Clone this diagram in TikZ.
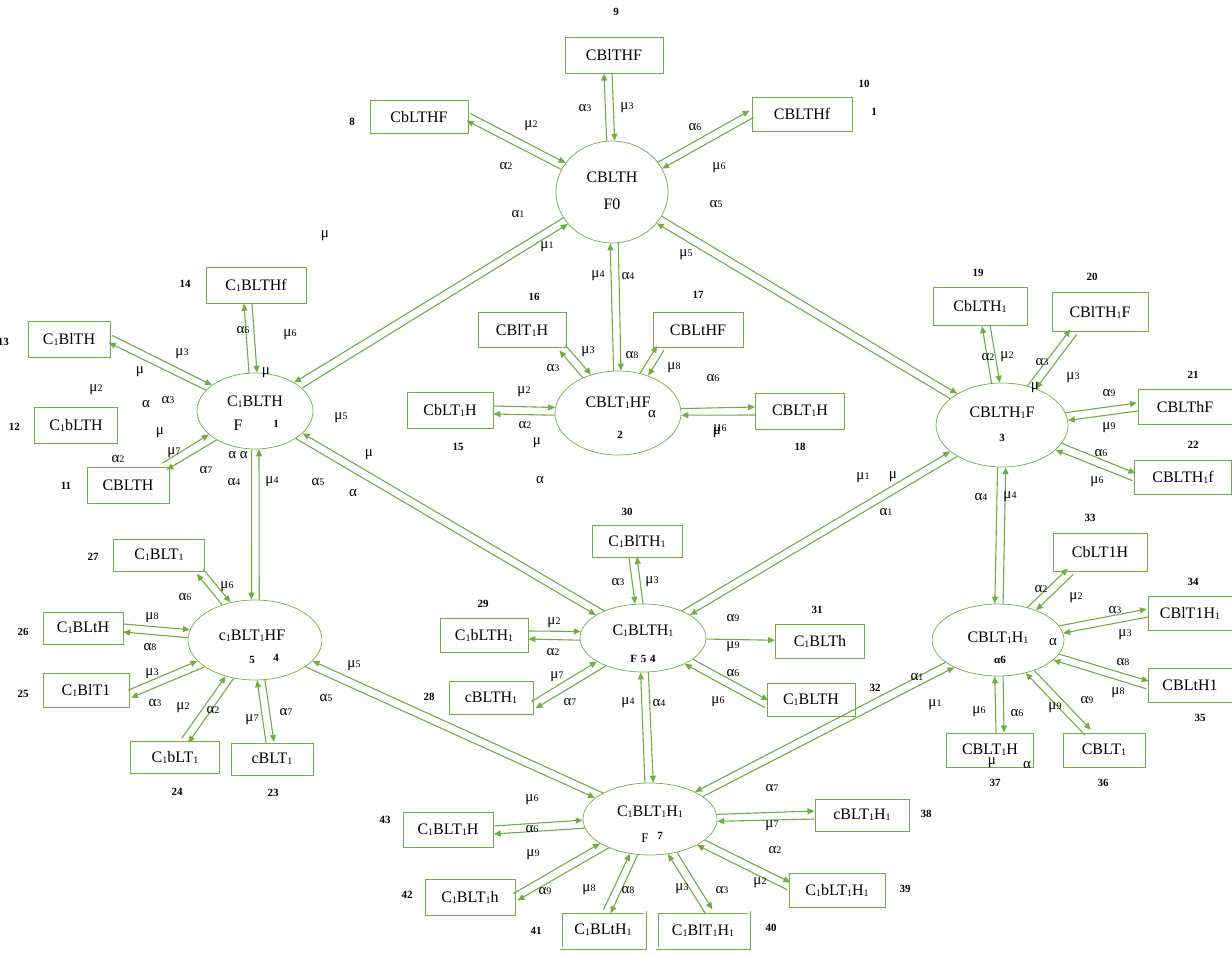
\documentclass[tikz,border=0pt]{standalone}
\usepackage{fontspec}
\setmainfont{Liberation Serif}
\usetikzlibrary{calc,arrows.meta,shapes.geometric}
\definecolor{grn}{RGB}{112,173,71}
\newcommand\sd[1]{\raisebox{-1pt}{\fontsize{10}{10}\selectfont #1}}
\newcommand\A[1]{α{\fontsize{10}{10}\selectfont #1}}
\newcommand\M[1]{μ{\fontsize{10}{10}\selectfont #1}}
\def\hs{4pt}
% ellipse <-> box point pair
\newcommand\EB[3]{%
 \draw[arr] let \p1=(#1.center), \p2=(#2), \n1={atan2(\y2-\y1,\x2-\x1)}, \p3=(#1.\n1),
   \n2={veclen(\x3-\x1,\y3-\y1)}, \n3={(#3)*atan(4/\n2)}, \n4={\n1-\n3}, \n5={\n1-90*(#3)}
   in (#1.\n4) -- ($(\p2)+(\n5:\hs)$);
 \draw[arr] let \p1=(#1.center), \p2=(#2), \n1={atan2(\y2-\y1,\x2-\x1)}, \p3=(#1.\n1),
   \n2={veclen(\x3-\x1,\y3-\y1)}, \n3={(#3)*atan(4/\n2)}, \n4={\n1+\n3}, \n5={\n1+90*(#3)}
   in ($(\p2)+(\n5:\hs)$) -- (#1.\n4);
}
% ellipse <-> ellipse pair
\newcommand\EE[3]{%
 \draw[arr] let \p1=(#1.center), \p2=(#2.center), \n1={atan2(\y2-\y1,\x2-\x1)}, \n6={\n1+180},
   \p3=(#1.\n1), \p4=(#2.\n6), \n2={veclen(\x3-\x1,\y3-\y1)}, \n7={veclen(\x4-\x2,\y4-\y2)},
   \n3={(#3)*atan(4/\n2)}, \n8={(#3)*atan(4/\n7)}, \n4={\n1-\n3}, \n9={\n6+\n8}
   in (#1.\n4) -- (#2.\n9);
 \draw[arr] let \p1=(#1.center), \p2=(#2.center), \n1={atan2(\y2-\y1,\x2-\x1)}, \n6={\n1+180},
   \p3=(#1.\n1), \p4=(#2.\n6), \n2={veclen(\x3-\x1,\y3-\y1)}, \n7={veclen(\x4-\x2,\y4-\y2)},
   \n3={(#3)*atan(4/\n2)}, \n8={(#3)*atan(4/\n7)}, \n4={\n1+\n3}, \n9={\n6-\n8}
   in (#2.\n9) -- (#1.\n4);
}
\tikzset{
 arr/.style={-{Triangle[length=7pt,width=6pt]}, draw=grn, line width=1.1pt},
 box/.style={draw=grn, line width=0.9pt, inner sep=0pt, font=\fontsize{16}{18}\selectfont},
 dbox/.style={box, double=white, double distance=1.2pt},
 st/.style={draw=grn, ellipse, line width=0.7pt, inner sep=0pt},
 etx/.style={inner sep=0pt, font=\fontsize{16}{18}\selectfont},
 lab/.style={inner sep=0pt, font=\fontsize{15}{15}\selectfont},
 num/.style={inner sep=0pt, font=\bfseries\fontsize{11}{11}\selectfont},
}
\begin{document}
\begin{tikzpicture}[x=1pt,y=-1pt]
\useasboundingbox (0,0) rectangle (1232,955);
% ---------- state ellipses ----------
\node[st, minimum width=112pt, minimum height=102pt] (F0) at (612,192) {};
\node[st, minimum width=116pt, minimum height=76pt] (N1) at (255,411) {};
\node[st, minimum width=126pt, minimum height=84pt] (N2) at (618,413) {};
\node[st, minimum width=132pt, minimum height=84pt] (N3) at (1002,425) {};
\node[st, minimum width=134pt, minimum height=80pt] (N4) at (255,640) {};
\node[st, minimum width=126pt, minimum height=68pt] (N5) at (643,638) {};
\node[st, minimum width=132pt, minimum height=72pt] (N6) at (998,640) {};
\node[st, minimum width=134pt, minimum height=72pt] (N7) at (650,819) {};
% ellipse texts
\node[etx] (F0a) at (612,177) {CBLTH};
\node[etx] (F0b) at (612,204) {F0};
\node[etx] (N1a) at (255,402) {C\sd1BLTH};
\node[etx] (N1b) at (238,425) {F};
\node[num] (N1c) at (276,424) {1};
\node[etx] (N2a) at (618,403) {CBLT\sd1HF};
\node[num] (N2b) at (620,435) {2};
\node[lab] (N2c) at (652,414) {α};
\node[etx] (N3a) at (1002,413) {CBLTH\sd1F};
\node[num] (N3b) at (1002,438) {3};
\node[etx] (N4a) at (252,636) {c\sd1BLT\sd1HF};
\node[num] (N4b) at (252,660) {5};
\node[num] (N4c) at (276,658) {4};
\node[etx] (N5a) at (643,631) {C\sd1BLTH\sd1};
\node[num] (N5b) at (643,659) {F\,\,5\,\,4};
\node[etx] (N6a) at (998,638) {CBLT\sd1H\sd1};
\node[num] (N6b) at (1000,660) {α6};
\node[lab] (N6c) at (1053,642) {α};
\node[etx] (N7a) at (650,812) {C\sd1BLT\sd1H\sd1};
\node[etx, font=\fontsize{13}{13}\selectfont] (N7b) at (645,838) {F};
\node[num] (N7c) at (660,836) {7};
% ---------- boxes ----------
\node[box, minimum width=98pt, minimum height=36pt] (B9) at (614,55) {CBlTHF};
\node[box, minimum width=98pt, minimum height=33pt] (B8) at (419,117) {CbLTHF};
\node[box, minimum width=100pt, minimum height=34pt] (B10) at (802,114) {CBLTHf};
\node[box, minimum width=100pt, minimum height=36pt] (B14) at (256,285) {C\sd1BLTHf};
\node[box, minimum width=82pt, minimum height=36pt] (B13) at (69,339) {C\sd1BlTH};
\node[box, minimum width=83pt, minimum height=36pt] (B12) at (76,425) {C\sd1bLTH};
\node[box, minimum width=82pt, minimum height=36pt] (B11) at (128,485) {CBLTH};
\node[box, minimum width=88pt, minimum height=35pt] (B16) at (522,330) {CBlT\sd1H};
\node[box, minimum width=90pt, minimum height=35pt] (B17) at (698,330) {CBLtHF};
\node[box, minimum width=86pt, minimum height=36pt] (B15) at (450,410) {CbLT\sd1H};
\node[box, minimum width=89pt, minimum height=36pt] (B18) at (800,411) {CBLT\sd1H};
\node[box, minimum width=94pt, minimum height=38pt] (B19) at (980,306) {CbLTH\sd1};
\node[box, minimum width=96pt, minimum height=39pt] (B20) at (1100,312) {CBlTH\sd1F};
\node[box, minimum width=94pt, minimum height=35pt] (B21) at (1185,407) {CBLThF};
\node[box, minimum width=97pt, minimum height=34pt] (B22) at (1183,477) {CBLTH\sd1f};
\node[box, minimum width=91pt, minimum height=32pt] (B27) at (159,555) {C\sd1BLT\sd1};
\node[box, minimum width=80pt, minimum height=32pt] (B26) at (83,628) {C\sd1BLtH};
\node[box, minimum width=86pt, minimum height=34pt] (B25) at (86,690) {C\sd1BlT1};
\node[box, minimum width=89pt, minimum height=32pt] (B24) at (175,757) {C\sd1bLT\sd1};
\node[box, minimum width=82pt, minimum height=32pt] (B23) at (272,759) {cBLT\sd1};
\node[box, minimum width=90pt, minimum height=32pt] (B30) at (637,541) {C\sd1BlTH\sd1};
\node[box, minimum width=88pt, minimum height=34pt] (B29) at (484,635) {C\sd1bLTH\sd1};
\node[box, minimum width=84pt, minimum height=33pt] (B28) at (491,698) {cBLTH\sd1};
\node[box, minimum width=89pt, minimum height=34pt] (B31) at (820,641) {C\sd1BLTh};
\node[box, minimum width=88pt, minimum height=33pt] (B32) at (811,700) {C\sd1BLTH};
\node[box, minimum width=94pt, minimum height=38pt] (B33) at (1100,552) {CbLT1H};
\node[box, minimum width=84pt, minimum height=34pt] (B34) at (1190,613) {CBlT1H\sd1};
\node[box, minimum width=84pt, minimum height=34pt] (B35) at (1190,685) {CBLtH1};
\node[box, minimum width=82pt, minimum height=34pt] (B36) at (1104,750) {CBLT\sd1};
\node[box, minimum width=87pt, minimum height=34pt] (B37) at (990,750) {CBLT\sd1H};
\node[box, minimum width=90pt, minimum height=35pt] (B43) at (448,830) {C\sd1BLT\sd1H};
\node[box, minimum width=90pt, minimum height=36pt] (B42) at (470,897) {C\sd1BLT\sd1h};
\node[dbox, minimum width=84pt, minimum height=36pt] (B41) at (603,930) {C\sd1BLtH\sd1};
\node[dbox, minimum width=92pt, minimum height=36pt] (B40) at (703,930) {C\sd1BlT\sd1H\sd1};
\node[box, minimum width=96pt, minimum height=34pt] (B39) at (837,890) {C\sd1bLT\sd1H\sd1};
\node[box, minimum width=94pt, minimum height=32pt] (B38) at (862,815) {cBLT\sd1H\sd1};
% ---------- connectors ----------
\EB{F0}{[xshift=-6pt]B9.south}{-1}
\EB{F0}{B8.east}{-1}
\EB{F0}{B10.west}{-1}
\EE{F0}{N1}{1}
\EE{F0}{N2}{-1}
\EE{F0}{N3}{-1}
\EB{N1}{[xshift=-8pt]B14.south}{-1}
\EB{N1}{B13.east}{-1}
\EB{N1}{[xshift=-5pt]B11.north east}{-1}
\EE{N1}{N4}{1}
\EE{N1}{N5}{1}
\EB{N2}{[xshift=-4pt]B16.south east}{-1}
\EB{N2}{[xshift=8pt]B17.south west}{-1}
\EB{N2}{B15.east}{-1}
\EB{N2}{B18.west}{-1}
\EB{N3}{[xshift=6pt]B19.south}{-1}
\EB{N3}{[xshift=22pt]B20.south west}{-1}
\EB{N3}{B21.west}{-1}
\EB{N3}{B22.west}{-1}
\EE{N3}{N6}{1}
\EE{N3}{N5}{-1}
\EB{N4}{[xshift=-5pt]B27.south east}{-1}
\EB{N4}{B26.east}{-1}
\EB{N4}{[yshift=-4pt]B25.east}{-1}
\EB{N4}{[xshift=10pt]B24.north}{-1}
\EB{N4}{[xshift=-2pt]B23.north}{-1}
\EE{N4}{N7}{1}
\EB{N5}{[xshift=-4pt]B30.south}{1}
\EB{N5}{B29.east}{-1}
\EB{N5}{[yshift=-7pt]B28.east}{-1}
\draw[arr] (N5) -- (B31);
\EB{N5}{[yshift=-4pt]B32.west}{-1}
\EE{N5}{N7}{-1}
\EB{N6}{[xshift=18pt]B33.south west}{-1}
\EB{N6}{B34.west}{-1}
\EB{N6}{B35.west}{-1}
\EB{N6}{[xshift=-16pt]B36.north}{-1}
\EB{N6}{[xshift=10pt]B37.north}{-1}
\EE{N6}{N7}{1}
\EB{N7}{B43.east}{-1}
\EB{N7}{B42.east}{-1}
\EB{N7}{[xshift=4pt]B41.north}{-1}
\EB{N7}{[xshift=6pt]B40.north}{-1}
\EB{N7}{[yshift=4pt]B39.west}{-1}
\EB{N7}{B38.west}{-1}
% ---------- rate labels ----------
\node[lab] (l1) at (585,108) {\A3};
\node[lab] (l2) at (627,108) {\M3};
\node[lab] (l3) at (531,126) {\M2};
\node[lab] (l4) at (506,166) {\A2};
\node[lab] (l5) at (695,127) {\A6};
\node[lab] (l6) at (719,168) {\M6};
\node[lab] (l7) at (518,214) {\A1};
\node[lab] (l8) at (547,247) {\M1};
\node[lab] (l9) at (716,204) {\A5};
\node[lab] (l10) at (686,255) {\M5};
\node[lab] (l11) at (598,276) {\M4};
\node[lab] (l12) at (628,276) {\A4};
\node[lab] (l13) at (325,236) {μ};
% N1
\node[lab] (l14) at (243,330) {\A6};
\node[lab] (l15) at (290,335) {\M6};
\node[lab] (l16) at (266,373) {μ};
\node[lab] (l17) at (182,354) {\M3};
\node[lab] (l18) at (140,372) {μ};
\node[lab] (l19) at (96,390) {\M2};
\node[lab] (l20) at (146,404) {α};
\node[lab] (l21) at (168,400) {\A3};
\node[lab] (l22) at (160,433) {μ};
\node[lab] (l23) at (118,459) {\A2};
\node[lab] (l24) at (174,453) {\M7};
\node[lab] (l25) at (206,470) {\A7};
\node[lab] (l26) at (238,455) {α α};
\node[lab] (l27) at (234,482) {\A4};
\node[lab] (l28) at (272,482) {\M4};
\node[lab] (l29) at (318,482) {\A5};
\node[lab] (l30) at (341,418) {\M5};
\node[lab] (l31) at (369,455) {μ};
\node[lab] (l32) at (353,493) {α};
% N2
\node[lab] (l33) at (553,368) {\A3};
\node[lab] (l34) at (588,352) {\M3};
\node[lab] (l35) at (632,355) {\A8};
\node[lab] (l36) at (674,368) {\M8};
\node[lab] (l37) at (713,378) {\A6};
\node[lab] (l38) at (524,392) {\M2};
\node[lab] (l39) at (525,425) {\A2};
\node[lab] (l40) at (537,443) {μ};
\node[lab] (l41) at (540,480) {α};
\node[lab] (l42) at (720,430) {\M6};
\node[lab] (l43) at (717,433) {μ};
% N3
\node[lab] (l44) at (988,357) {\A2};
\node[lab] (l45) at (1007,357) {\M2};
\node[lab] (l46) at (1042,362) {\A3};
\node[lab] (l47) at (1035,388) {μ};
\node[lab] (l48) at (1073,378) {\M3};
\node[lab] (l49) at (1109,393) {\A9};
\node[lab] (l50) at (1109,428) {\M9};
\node[lab] (l51) at (1101,453) {\A6};
\node[lab] (l52) at (1097,482) {\M6};
\node[lab] (l53) at (981,497) {\A4};
\node[lab] (l54) at (1010,497) {\M4};
\node[lab] (l55) at (863,478) {\M1};
\node[lab] (l56) at (893,477) {μ};
\node[lab] (l57) at (886,512) {\A1};
% N4
\node[lab] (l58) at (185,597) {\A6};
\node[lab] (l59) at (227,587) {\M6};
\node[lab] (l60) at (152,618) {\M8};
\node[lab] (l61) at (150,647) {\A8};
\node[lab] (l62) at (152,674) {\M3};
\node[lab] (l63) at (155,703) {\A3};
\node[lab] (l64) at (183,708) {\M2};
\node[lab] (l65) at (213,710) {\A2};
\node[lab] (l66) at (252,720) {\M7};
\node[lab] (l67) at (286,712) {\A7};
\node[lab] (l68) at (354,666) {\M5};
\node[lab] (l69) at (326,698) {\A5};
% N5
\node[lab] (l70) at (618,582) {\A3};
\node[lab] (l71) at (652,582) {\M3};
\node[lab] (l72) at (554,623) {\M2};
\node[lab] (l73) at (553,652) {\A2};
\node[lab] (l74) at (557,677) {\M7};
\node[lab] (l75) at (570,702) {\A7};
\node[lab] (l76) at (733,618) {\A9};
\node[lab] (l77) at (733,647) {\M9};
\node[lab] (l78) at (733,673) {\A6};
\node[lab] (l79) at (718,702) {\M6};
\node[lab] (l80) at (628,703) {\M4};
\node[lab] (l81) at (659,703) {\A4};
% N6
\node[lab] (l82) at (1041,589) {\A2};
\node[lab] (l83) at (1076,598) {\M2};
\node[lab] (l84) at (1115,610) {\A3};
\node[lab] (l85) at (1125,635) {\M3};
\node[lab] (l86) at (1123,662) {\A8};
\node[lab] (l87) at (1118,693) {\M8};
\node[lab] (l88) at (1087,700) {\A9};
\node[lab] (l89) at (1055,708) {\M9};
\node[lab] (l90) at (979,712) {\M6};
\node[lab] (l91) at (1017,713) {\A6};
\node[lab] (l92) at (992,763) {μ};
\node[lab] (l93) at (1027,765) {α};
\node[lab] (l94) at (917,677) {\A1};
\node[lab] (l95) at (935,705) {\M1};
% N7
\node[lab] (l96) at (532,800) {\M6};
\node[lab] (l97) at (532,829) {\A6};
\node[lab] (l98) at (533,855) {\M9};
\node[lab] (l99) at (545,891) {\A9};
\node[lab] (l100) at (589,890) {\M8};
\node[lab] (l101) at (628,890) {\A8};
\node[lab] (l102) at (682,889) {\M3};
\node[lab] (l103) at (722,890) {\A3};
\node[lab] (l104) at (760,883) {\M2};
\node[lab] (l105) at (775,850) {\A2};
\node[lab] (l106) at (772,826) {\M7};
\node[lab] (l107) at (772,788) {\A7};
% ---------- state numbers ----------
\node[num] (n9) at (616,12) {9};
\node[num] (n8) at (352,122) {8};
\node[num] (n10) at (864,84) {10};
\node[num] (n1) at (874,112) {1};
\node[num] (n14) at (185,284) {14};
\node[num, anchor=east] (n13) at (9,342) {13};
\node[num, anchor=east] (n12) at (20,427) {12};
\node[num] (n11) at (66,486) {11};
\node[num] (n16) at (534,297) {16};
\node[num] (n17) at (698,295) {17};
\node[num] (n15) at (458,447) {15};
\node[num] (n18) at (800,447) {18};
\node[num] (n19) at (978,273) {19};
\node[num] (n20) at (1092,277) {20};
\node[num] (n21) at (1193,375) {21};
\node[num] (n22) at (1193,445) {22};
\node[num] (n27) at (93,557) {27};
\node[num] (n26) at (23,632) {26};
\node[num] (n25) at (23,694) {25};
\node[num] (n24) at (177,792) {24};
\node[num] (n23) at (273,793) {23};
\node[num] (n30) at (627,512) {30};
\node[num] (n29) at (483,604) {29};
\node[num] (n31) at (817,610) {31};
\node[num] (n28) at (429,697) {28};
\node[num] (n32) at (875,688) {32};
\node[num] (n33) at (1090,518) {33};
\node[num] (n34) at (1193,582) {34};
\node[num] (n35) at (1200,718) {35};
\node[num] (n36) at (1103,783) {36};
\node[num] (n37) at (995,783) {37};
\node[num] (n43) at (385,820) {43};
\node[num] (n42) at (407,895) {42};
\node[num] (n41) at (536,931) {41};
\node[num] (n40) at (771,928) {40};
\node[num] (n39) at (905,889) {39};
\node[num] (n38) at (926,814) {38};
\end{tikzpicture}
\end{document}
